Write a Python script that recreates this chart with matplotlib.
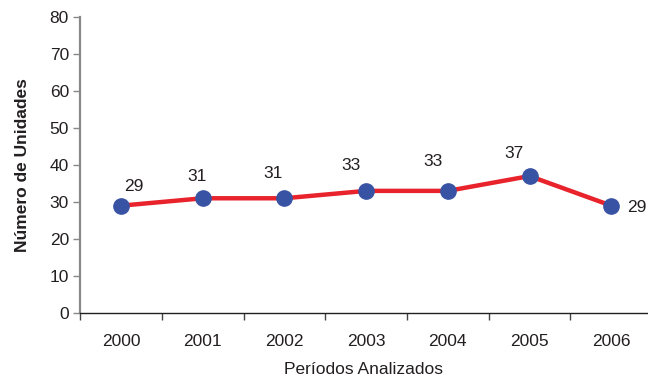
import matplotlib
matplotlib.use('Agg')
import matplotlib.pyplot as plt

years = ['2000', '2001', '2002', '2003', '2004', '2005', '2006']
units = [29, 31, 31, 33, 33, 37, 29]

# label offsets in points (dx, dy) relative to each marker
label_offsets = [(9, 14), (-4, 16), (-8, 18), (-11, 18), (-11, 21), (-11, 16), (11.5, -1)]


def main():
    plt.rcParams['font.family'] = ['Liberation Sans', 'DejaVu Sans']

    fig = plt.figure(figsize=(6.48, 3.81), dpi=100)
    ax = fig.add_axes([0.1235, 0.1785, 0.883, 0.777])

    x = [i + 0.5 for i in range(len(years))]
    ax.plot(x, units, color='#E8232B', linewidth=3.2, marker='o',
            markersize=11, markerfacecolor='#3953A4', markeredgecolor='#3953A4',
            zorder=3, clip_on=False)

    for i, (xi, v) in enumerate(zip(x, units)):
        dx, dy = label_offsets[i]
        ax.annotate(str(v), (xi, v), xytext=(dx, dy), textcoords='offset points',
                    ha='left' if i == len(units) - 1 else 'center', va='center',
                    fontsize=12.5, color='#231F20', annotation_clip=False)

    ax.set_xlim(0, len(years))
    ax.set_ylim(0, 80)
    ax.set_yticks(range(0, 81, 10))
    ax.set_xticks(range(0, len(years) + 1))
    ax.set_xticklabels([])
    ax.set_xticks(x, minor=True)
    ax.set_xticklabels(years, minor=True)
    ax.tick_params(axis='x', which='minor', length=0, pad=15, labelsize=12.5,
                   labelcolor='#231F20')
    ax.tick_params(axis='x', which='major', length=5, width=1, color='#444444',
                   direction='out')
    ax.tick_params(axis='y', length=5, width=1, color='#888888', labelsize=12.5,
                   labelcolor='#231F20', pad=3)

    for s in ['top', 'right']:
        ax.spines[s].set_visible(False)
    ax.spines['left'].set_color('#888888')
    ax.spines['left'].set_linewidth(1.6)
    ax.spines['bottom'].set_color('#231F20')
    ax.spines['bottom'].set_linewidth(1.0)

    ax.set_ylabel('Número de Unidades', fontsize=12.5, fontweight='bold',
                  color='#231F20')
    ax.yaxis.set_label_coords(-0.088, 0.5)
    ax.set_xlabel('Períodos Analizados', fontsize=12.5, color='#231F20')
    ax.xaxis.set_label_coords(0.495, -0.165)

    fig.savefig('out.png', dpi=100)


if __name__ == '__main__':
    main()
